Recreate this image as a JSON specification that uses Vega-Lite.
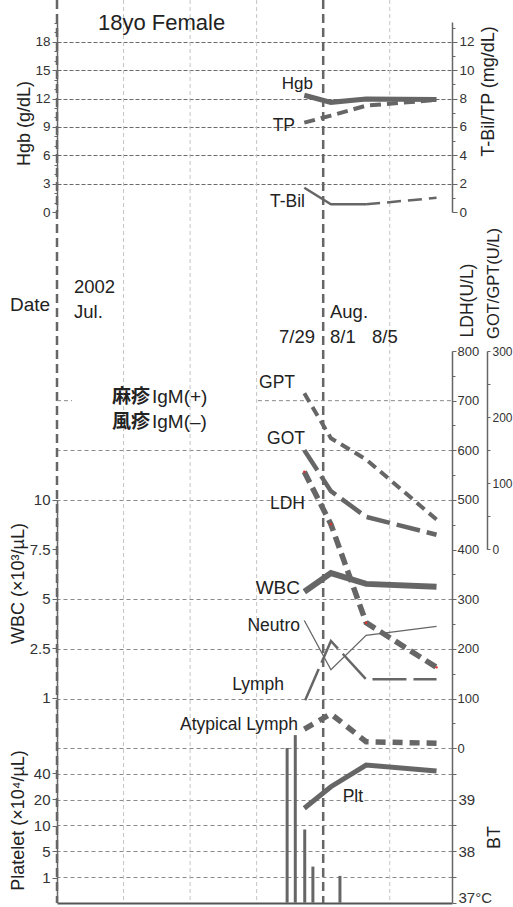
{
"$schema": "https://vega.github.io/schema/vega-lite/v6.json",
"width": 395, "height": 903,
"autosize": {"type": "none"},
"padding": {"left": 57, "top": 0, "right": 61, "bottom": 4},
"background": "white",
"config": {
  "view": {"stroke": null},
  "axis": {"labelFont": "Liberation Sans", "titleFont": "Liberation Sans", "labelColor": "#333", "titleColor": "#222", "titleFontWeight": "normal", "tickColor": "#666", "domainColor": "#666", "domainWidth": 1.5, "labelOverlap": false, "labelFlush": false, "grid": false},
  "text": {"font": "Liberation Sans", "color": "#222"},
  "line": {"strokeCap": "butt"}
},
"encoding": {"x": {"field": "day", "type": "quantitative", "title": null, "scale": {"domain": [0, 46], "nice": false, "zero": false},
  "axis": {"orient": "bottom", "values": [7.75, 15.5, 23.25, 38.75], "labels": false, "ticks": false, "domainColor": "#555", "domainWidth": 2, "grid": false, "title": null}}},
"resolve": {"scale": {"y": "independent"}},
"layer": [
  {"data": {"values": [{"day": 7.75}, {"day": 15.5}, {"day": 23.25}, {"day": 38.75}]}, "mark": {"type": "rule", "color": "#c4c4c4", "strokeWidth": 1, "strokeDash": [4, 3]}, "encoding": {}},
  {"data": {"values": [{"day": 0}, {"day": 31}]}, "mark": {"type": "rule", "color": "#666", "strokeWidth": 2.5, "strokeDash": [9, 5]}, "encoding": {}},
  {
    "encoding": {"y": {"field": "v", "type": "quantitative", "scale": {"domain": [0, 20.1], "range": [212, 22], "nice": false, "zero": false},
      "axis": {"orient": "left", "values": [0,1,2,3,4,5,6,7,8,9,10,11,12,13,14,15,16,17,18,19,20], "labelExpr": "datum.value % 3 === 0 && datum.value <= 18 ? datum.label : ''", "tickSize": {"condition": {"test": "datum.value % 3 === 0", "value": 5}, "value": 3}, "labelFontSize": 13.5, "labelPadding": 2, "grid": true, "gridColor": "#6a6a6a", "gridDash": [4, 2], "gridOpacity": {"condition": {"test": "datum.value % 3 === 0 && datum.value > 0 && datum.value <= 18", "value": 1}, "value": 0}, "title": "Hgb (g/dL)", "titleFontSize": 18, "titleX": -33, "titleY": 123, "titleAngle": 270, "titleAlign": "center", "titleBaseline": "middle"}}},
    "layer": [
      {"data": {"values": [{"v": 0}]}, "mark": {"type": "rule", "color": "#555", "strokeWidth": 1.5}, "encoding": {"x": {"datum": 0, "type": "quantitative"}, "x2": {"datum": 46}}},
      {"data": {"values": [{"day": 28.8, "v": 12.35}, {"day": 31.9, "v": 11.6}, {"day": 36.0, "v": 11.95}, {"day": 44.2, "v": 11.9}]}, "mark": {"type": "line", "color": "#666", "strokeWidth": 5}, "encoding": {}},
      {"data": {"values": [{"day": 29.8, "v": 13.55, "label": "Hgb"}]}, "mark": {"type": "text", "align": "right", "baseline": "middle", "fontSize": 17}, "encoding": {"text": {"field": "label"}}},
      {"data": {"values": [{"day": 4.77, "v": 20.0, "label": "18yo Female"}]}, "mark": {"type": "text", "align": "left", "baseline": "middle", "fontSize": 22}, "encoding": {"text": {"field": "label"}}}
    ]
  },
  {
    "encoding": {"y": {"field": "v", "type": "quantitative", "scale": {"domain": [0, 13.4], "range": [212, 22], "nice": false, "zero": false},
      "axis": {"orient": "right", "values": [0,1,2,3,4,5,6,7,8,9,10,11,12,13], "labelExpr": "datum.value % 2 === 0 ? datum.label : ''", "tickSize": {"condition": {"test": "datum.value % 2 === 0", "value": 5}, "value": 3}, "labelFontSize": 13.5, "labelPadding": 2, "title": "T-Bil/TP (mg/dL)", "titleFontSize": 18, "titleX": 36, "titleY": 91, "titleAngle": 270, "titleAlign": "center", "titleBaseline": "middle"}}},
    "layer": [
      {"data": {"values": [{"day": 28.8, "v": 6.3}, {"day": 31.9, "v": 6.8}, {"day": 36.0, "v": 7.5}, {"day": 44.2, "v": 7.9}]}, "mark": {"type": "line", "color": "#666", "strokeWidth": 4, "strokeDash": [11, 6]}, "encoding": {}},
      {"data": {"values": [{"day": 28.8, "v": 1.71}, {"day": 31.9, "v": 0.54}, {"day": 36.0, "v": 0.54}]}, "mark": {"type": "line", "color": "#666", "strokeWidth": 2.5}, "encoding": {}},
      {"data": {"values": [{"day": 36.0, "v": 0.54}, {"day": 44.2, "v": 1.0}]}, "mark": {"type": "line", "color": "#666", "strokeWidth": 2.5, "strokeDash": [14, 7]}, "encoding": {}},
      {"data": {"values": [{"day": 27.72, "v": 6.07, "label": "TP"}, {"day": 28.88, "v": 0.73, "label": "T-Bil"}]}, "mark": {"type": "text", "align": "right", "baseline": "middle", "fontSize": 17.5}, "encoding": {"text": {"field": "label"}}}
    ]
  },
  {
    "encoding": {"y": {"field": "row", "type": "ordinal", "scale": {"type": "point", "domain": ["y", "m", "d"], "range": [287, 337], "padding": 0}, "axis": null}},
    "layer": [
      {"data": {"values": [{"day": 1.98, "row": "y", "label": "2002"}, {"day": 1.98, "row": "m", "label": "Jul."}, {"day": 31.79, "row": "m", "label": "Aug."}, {"day": 25.85, "row": "d", "label": "7/29"}, {"day": 31.79, "row": "d", "label": "8/1"}, {"day": 36.68, "row": "d", "label": "8/5"}]}, "mark": {"type": "text", "align": "left", "baseline": "middle", "fontSize": 18.5}, "encoding": {"text": {"field": "label"}}},
      {"data": {"values": [{"day": -5.47, "row": "m", "label": "Date"}]}, "mark": {"type": "text", "align": "left", "baseline": "middle", "fontSize": 19, "dy": -7}, "encoding": {"text": {"field": "label"}}}
    ]
  },
  {
    "encoding": {"y": {"field": "v", "type": "quantitative", "scale": {"domain": [0, 800], "range": [748.3, 351], "nice": false, "zero": false},
      "axis": {"orient": "right", "values": [0,50,100,150,200,250,300,350,400,450,500,550,600,650,700,750,800], "labelExpr": "datum.value % 100 === 0 ? datum.label : ''", "tickSize": {"condition": {"test": "datum.value % 100 === 0", "value": 4}, "value": 3}, "labelFontSize": 13, "labelPadding": 1, "grid": true, "gridColor": "#8a8a8a", "gridDash": [4, 3], "gridOpacity": {"condition": {"test": "datum.value % 100 === 0 && datum.value !== 700 && datum.value !== 800 && datum.value !== 400", "value": 1}, "value": 0}, "title": "LDH(U/L)", "titleFontSize": 17.5, "titleX": 15, "titleY": 300, "titleAngle": 270, "titleAlign": "center", "titleBaseline": "middle"}}},
    "layer": [
      {"data": {"values": [{"v": 800}]}, "mark": {"type": "rule", "color": "#666", "strokeWidth": 3, "strokeDash": [7, 2]}, "encoding": {"x": {"datum": 0, "type": "quantitative"}, "x2": {"datum": 46}}},
      {"data": {"values": [{"v": 400}]}, "mark": {"type": "rule", "color": "#333", "strokeWidth": 2}, "encoding": {"x": {"datum": 0, "type": "quantitative"}, "x2": {"datum": 46}}},
      {"data": {"values": [{"x1": 0, "x2": 1.75, "v": 700}, {"x1": 23.4, "x2": 46, "v": 700}]}, "mark": {"type": "rule", "color": "#8a8a8a", "strokeWidth": 1, "strokeDash": [4, 3]}, "encoding": {"x": {"field": "x1", "type": "quantitative", "title": null}, "x2": {"field": "x2"}}},
      {"data": {"values": [{"day": 28.8, "v": 557}, {"day": 31.9, "v": 451}, {"day": 36.0, "v": 253}, {"day": 44.2, "v": 163}]}, "mark": {"type": "line", "color": "#666", "strokeWidth": 5.5, "strokeDash": [12, 6]}, "encoding": {}},
      {"data": {"values": [{"day": 28.8, "v": 557}, {"day": 31.9, "v": 451}, {"day": 36.0, "v": 253}, {"day": 44.2, "v": 163}]}, "mark": {"type": "point", "filled": true, "color": "#e0302a", "size": 6, "opacity": 1}, "encoding": {}},
      {"data": {"values": [{"day": 6.4, "v": 708, "label": "麻疹"}, {"day": 6.4, "v": 657.7, "label": "風疹"}]}, "mark": {"type": "text", "align": "left", "baseline": "middle", "fontSize": 19, "fontWeight": "bold", "font": "Noto Sans CJK JP"}, "encoding": {"text": {"field": "label"}}},
      {"data": {"values": [{"day": 11.06, "v": 708, "label": "IgM(+)"}, {"day": 11.06, "v": 657.7, "label": "IgM(–)"}]}, "mark": {"type": "text", "align": "left", "baseline": "middle", "fontSize": 19}, "encoding": {"text": {"field": "label"}}},
      {"data": {"values": [{"day": 28.88, "v": 492, "label": "LDH"}]}, "mark": {"type": "text", "align": "right", "baseline": "middle", "fontSize": 17.5}, "encoding": {"text": {"field": "label"}}}
    ]
  },
  {
    "encoding": {"y": {"field": "v", "type": "quantitative", "scale": {"domain": [0, 300], "range": [549.3, 351], "nice": false, "zero": false},
      "axis": {"orient": "right", "offset": 35, "values": [0,50,100,150,200,250,300], "labelExpr": "datum.value % 100 === 0 ? datum.label : ''", "tickSize": 3, "labelFontSize": 12, "labelPadding": 2, "title": "GOT/GPT(U/L)", "titleFontSize": 16.5, "titleX": 6, "titleY": 283, "titleAngle": 270, "titleAlign": "center", "titleBaseline": "middle"}}},
    "layer": [
      {"data": {"values": [{"day": 28.8, "v": 236}, {"day": 31.9, "v": 168}, {"day": 36.0, "v": 136}, {"day": 44.2, "v": 45}]}, "mark": {"type": "line", "color": "#666", "strokeWidth": 4, "strokeDash": [10, 6]}, "encoding": {}},
      {"data": {"values": [{"day": 28.8, "v": 150}, {"day": 31.9, "v": 88}, {"day": 36.0, "v": 49}, {"day": 44.2, "v": 22}]}, "mark": {"type": "line", "color": "#666", "strokeWidth": 4.5, "strokeDash": [24, 7]}, "encoding": {}},
      {"data": {"values": [{"day": 27.72, "v": 251.7, "label": "GPT"}, {"day": 28.88, "v": 166.6, "label": "GOT"}]}, "mark": {"type": "text", "align": "right", "baseline": "middle", "fontSize": 17.5}, "encoding": {"text": {"field": "label"}}}
    ]
  },
  {
    "encoding": {"y": {"field": "v", "type": "quantitative", "scale": {"domain": [0, 1, 2.5, 5, 7.5, 10], "range": [748.3, 697.7, 648.3, 598.7, 549.3, 499.7], "nice": false, "zero": false},
      "axis": {"orient": "left", "values": [1, 2.5, 5, 7.5, 10], "labelExpr": "'' + datum.value", "tickSize": 5, "labelFontSize": 15, "labelPadding": 2, "title": "WBC (×10³/µL)", "titleFontSize": 18, "titleX": -39, "titleY": 583, "titleAngle": 270, "titleAlign": "center", "titleBaseline": "middle"}}},
    "layer": [
      {"data": {"values": [{"day": 28.8, "v": 5.35}, {"day": 31.9, "v": 6.3}, {"day": 36.0, "v": 5.75}, {"day": 44.2, "v": 5.6}]}, "mark": {"type": "line", "color": "#666", "strokeWidth": 6}, "encoding": {}},
      {"data": {"values": [{"day": 28.8, "v": 3.9}, {"day": 31.9, "v": 1.85}, {"day": 36.0, "v": 3.15}, {"day": 44.2, "v": 3.6}]}, "mark": {"type": "line", "color": "#666", "strokeWidth": 1.3}, "encoding": {}},
      {"data": {"values": [{"day": 28.9, "v": 0.95}, {"day": 31.9, "v": 2.87}, {"day": 36.0, "v": 1.56}, {"day": 44.2, "v": 1.56}]}, "mark": {"type": "line", "color": "#666", "strokeWidth": 2.5, "strokeDash": [34, 7]}, "encoding": {}},
      {"data": {"values": [{"day": 28.8, "v": 0.38}, {"day": 31.9, "v": 0.68}, {"day": 36.0, "v": 0.13}, {"day": 44.2, "v": 0.1}]}, "mark": {"type": "line", "color": "#666", "strokeWidth": 5.5, "strokeDash": [10, 7]}, "encoding": {}},
      {"data": {"values": [{"day": 28.3, "v": 5.53, "label": "WBC"}]}, "mark": {"type": "text", "align": "right", "baseline": "middle", "fontSize": 19}, "encoding": {"text": {"field": "label"}}},
      {"data": {"values": [{"day": 28.3, "v": 3.62, "label": "Neutro"}, {"day": 26.44, "v": 1.39, "label": "Lymph"}, {"day": 28.07, "v": 0.46, "label": "Atypical Lymph"}]}, "mark": {"type": "text", "align": "right", "baseline": "middle", "fontSize": 17.5}, "encoding": {"text": {"field": "label"}}}
    ]
  },
  {
    "encoding": {"y": {"field": "v", "type": "quantitative", "scale": {"domain": [37, 40], "range": [902.7, 748], "nice": false, "zero": false},
      "axis": {"orient": "right", "values": [37, 37.5, 38, 38.5, 39, 39.5, 40], "labelExpr": "datum.value === 37 ? '37°C' : (datum.value % 1 === 0 && datum.value < 40 ? '' + datum.value : '')", "labelBaseline": {"condition": {"test": "datum.value === 37", "value": "alphabetic"}, "value": "middle"}, "tickSize": 4, "labelFontSize": 15, "labelPadding": 2, "grid": true, "gridColor": "#8a8a8a", "gridDash": [4, 3], "gridOpacity": {"condition": {"test": "datum.value > 37 && datum.value < 40", "value": 1}, "value": 0}, "title": "BT", "titleFontSize": 18, "titleX": 42, "titleY": 837, "titleAngle": 270, "titleAlign": "center", "titleBaseline": "middle"}}},
    "layer": [
      {"data": {"values": [{"v": 40}]}, "mark": {"type": "rule", "color": "#666", "strokeWidth": 2.5}, "encoding": {"x": {"datum": 0, "type": "quantitative"}, "x2": {"datum": 46}}},
      {"data": {"values": [{"day": 26.8, "v": 40.0}, {"day": 27.75, "v": 40.25}, {"day": 28.85, "v": 38.42}, {"day": 29.8, "v": 37.7}, {"day": 32.95, "v": 37.52}]}, "mark": {"type": "rule", "color": "#666", "strokeWidth": 3}, "encoding": {"y2": {"datum": 37}}}
    ]
  },
  {
    "encoding": {"y": {"field": "v", "type": "quantitative", "scale": {"domain": [0, 1, 5, 10, 20, 40, 60], "range": [902.7, 877.7, 851, 825.7, 799.3, 773.3, 748], "nice": false, "zero": false},
      "axis": {"orient": "left", "values": [1, 5, 10, 20, 40], "tickSize": 5, "labelFontSize": 15, "labelPadding": 2, "title": "Platelet (×10⁴/µL)", "titleFontSize": 18, "titleX": -39, "titleY": 820, "titleAngle": 270, "titleAlign": "center", "titleBaseline": "middle"}}},
    "layer": [
      {"data": {"values": [{"day": 28.8, "v": 16.6}, {"day": 31.9, "v": 29.7}, {"day": 36.0, "v": 46.5}, {"day": 44.2, "v": 41.8}]}, "mark": {"type": "line", "color": "#666", "strokeWidth": 5}, "encoding": {}},
      {"data": {"values": [{"day": 33.27, "v": 21.5, "label": "Plt"}]}, "mark": {"type": "text", "align": "left", "baseline": "middle", "fontSize": 17.5}, "encoding": {"text": {"field": "label"}}}
    ]
  }
]
}
